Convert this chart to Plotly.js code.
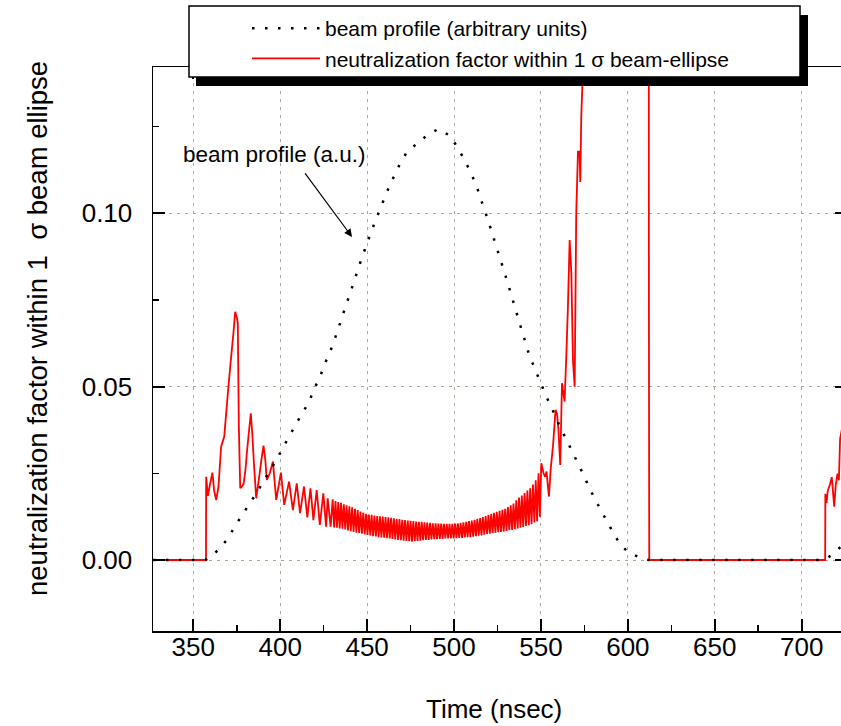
<!DOCTYPE html>
<html>
<head>
<meta charset="utf-8">
<script src="https://cdn.plot.ly/plotly-3.0.1.min.js"></script>
<style>
html,body{margin:0;padding:0;overflow:hidden;background:#fff;}
#chart{width:847px;height:726px;}
</style>
</head>
<body>
<div id="chart"></div>
<script>
// ---- beam profile (arbitrary units) ----
const tProfile = [326.8, 357, 359.4, 364.9, 369.7, 373.5, 377.7, 382.2, 386.2, 390.4, 394.6, 398.2, 402.1, 405.9, 409.5, 413.6, 417.2, 419.9, 423.1, 425.8, 428.7, 431.1, 433.4, 435.7, 437.9, 440.2, 446.0, 451.6, 457.4, 463.1, 468.9, 472.7, 478.8, 484.8, 490.9, 497.6, 502.0, 505.8, 509.2, 512.1, 514.6, 516.7, 519.0, 524.6, 530.9, 537.2, 543.5, 546.4, 549.3, 552.1, 555.0, 558.3, 561.1, 564.6, 568.0, 571.3, 574.5, 577.6, 580.8, 584.5, 588.1, 591.8, 595.8, 600.6, 607.7, 612, 712, 714, 718.7, 722, 726];
const vProfile = [0, 0, 0.0008, 0.0031, 0.0061, 0.0093, 0.0127, 0.0161, 0.0192, 0.0227, 0.0262, 0.0292, 0.0329, 0.0363, 0.0396, 0.0430, 0.0464, 0.0497, 0.0531, 0.0568, 0.0600, 0.0634, 0.0667, 0.0702, 0.0736, 0.0769, 0.0857, 0.0937, 0.1012, 0.1082, 0.1143, 0.1175, 0.1202, 0.1226, 0.1243, 0.1224, 0.1190, 0.1156, 0.1122, 0.1089, 0.1055, 0.1021, 0.0989, 0.0900, 0.0799, 0.0692, 0.0587, 0.0553, 0.0517, 0.0484, 0.0450, 0.0415, 0.0382, 0.0348, 0.0312, 0.0279, 0.0245, 0.0211, 0.0178, 0.0144, 0.0110, 0.0077, 0.0043, 0.0021, 0.0005, 0, 0, 0.0003, 0.0020, 0.0036, 0.0052];

// ---- neutralization factor within 1 sigma beam-ellipse ----
// leading edge, first peaks and early oscillations
const tNeutralStart = [326.8, 357.3, 357.4, 358.4, 359.5, 361.0, 362.0, 363.2, 364.5, 366.0, 367.8, 369.7, 371.6, 373.2, 374.1, 375.0, 375.6, 376.2, 377.0, 378.0,
  378.9, 380.0, 380.8, 382.0, 383.1, 384.0, 385.0, 386.2, 387.9, 389.2, 390.4, 391.4, 392.3, 394.0, 395.8, 397.7, 400.4, 402.3, 405.1, 407.3,
  409.5, 411.4, 413.7, 415.6, 417.4, 419.1, 421.0, 422.8, 424.8, 426.4, 427.3, 429.0];
const vNeutralStart = [0, 0, 0.0240, 0.0185, 0.0215, 0.0252, 0.0200, 0.0173, 0.0212, 0.0327, 0.0356, 0.0471, 0.0577, 0.0660, 0.0716, 0.0700, 0.0684, 0.0385, 0.0207, 0.0212,
  0.0219, 0.0260, 0.0308, 0.0370, 0.0423, 0.0360, 0.0269, 0.0178, 0.0240, 0.0290, 0.0330, 0.0290, 0.0231, 0.0250, 0.0284, 0.0173, 0.0252, 0.0159, 0.0226, 0.0144,
  0.0221, 0.0135, 0.0212, 0.0123, 0.0207, 0.0115, 0.0202, 0.0101, 0.0192, 0.0096, 0.0178, 0.0096];
// fast oscillation: upper turning points
const tNeutralPeaks = [430.2, 431.8, 433.4, 435.0, 436.6, 438.2, 439.8, 441.4, 443.0, 444.6, 446.2, 447.8, 449.4, 451.0, 452.6, 454.2, 455.8, 457.4, 459.0, 460.6,
  462.2, 463.8, 465.4, 467.0, 468.6, 470.2, 471.8, 473.4, 475.0, 476.6, 478.2, 479.8, 481.4, 483.0, 484.6, 486.2, 487.8, 489.4, 491.0, 492.6,
  494.2, 495.8, 497.4, 499.0, 500.6, 502.2, 503.8, 505.4, 507.0, 508.6, 510.2, 511.8, 513.4, 515.0, 516.6, 518.2, 519.8, 521.4, 523.0, 524.6,
  526.2, 527.8, 529.4, 531.0, 532.6, 534.2, 535.8, 537.4, 539.0, 540.6, 542.2, 543.8, 545.4, 547.0, 548.6, 550.2];
const vNeutralPeaks = [0.0175, 0.0170, 0.0167, 0.0165, 0.0161, 0.0158, 0.0155, 0.0152, 0.0148, 0.0144, 0.0140, 0.0137, 0.0133, 0.0131, 0.0130, 0.0128, 0.0127, 0.0126, 0.0125, 0.0124,
  0.0123, 0.0122, 0.0120, 0.0119, 0.0118, 0.0116, 0.0115, 0.0114, 0.0113, 0.0112, 0.0111, 0.0110, 0.0110, 0.0109, 0.0108, 0.0107, 0.0106, 0.0106, 0.0105, 0.0105,
  0.0104, 0.0104, 0.0104, 0.0104, 0.0105, 0.0106, 0.0107, 0.0109, 0.0110, 0.0112, 0.0114, 0.0116, 0.0119, 0.0121, 0.0124, 0.0127, 0.0130, 0.0133, 0.0136, 0.0139,
  0.0142, 0.0145, 0.0148, 0.0153, 0.0158, 0.0163, 0.0172, 0.0180, 0.0186, 0.0193, 0.0200, 0.0207, 0.0218, 0.0230, 0.0250, 0.0279];
// fast oscillation: lower turning points
const tNeutralTroughs = [431.0, 432.6, 434.2, 435.8, 437.4, 439.0, 440.6, 442.2, 443.8, 445.4, 447.0, 448.6, 450.2, 451.8, 453.4, 455.0, 456.6, 458.2, 459.8, 461.4,
  463.0, 464.6, 466.2, 467.8, 469.4, 471.0, 472.6, 474.2, 475.8, 477.4, 479.0, 480.6, 482.2, 483.8, 485.4, 487.0, 488.6, 490.2, 491.8, 493.4,
  495.0, 496.6, 498.2, 499.8, 501.4, 503.0, 504.6, 506.2, 507.8, 509.4, 511.0, 512.6, 514.2, 515.8, 517.4, 519.0, 520.6, 522.2, 523.8, 525.4,
  527.0, 528.6, 530.2, 531.8, 533.4, 535.0, 536.6, 538.2, 539.8, 541.4, 543.0, 544.6, 546.2, 547.8, 549.4];
const vNeutralTroughs = [0.0094, 0.0093, 0.0091, 0.0090, 0.0088, 0.0085, 0.0083, 0.0081, 0.0079, 0.0078, 0.0076, 0.0074, 0.0072, 0.0071, 0.0069, 0.0068, 0.0066, 0.0065, 0.0064, 0.0063,
  0.0062, 0.0061, 0.0059, 0.0058, 0.0057, 0.0056, 0.0055, 0.0054, 0.0053, 0.0054, 0.0055, 0.0056, 0.0057, 0.0058, 0.0058, 0.0059, 0.0060, 0.0060, 0.0061, 0.0061,
  0.0062, 0.0062, 0.0062, 0.0062, 0.0063, 0.0064, 0.0064, 0.0065, 0.0066, 0.0066, 0.0067, 0.0069, 0.0070, 0.0071, 0.0073, 0.0075, 0.0076, 0.0078, 0.0079, 0.0080,
  0.0081, 0.0082, 0.0084, 0.0086, 0.0087, 0.0089, 0.0091, 0.0093, 0.0095, 0.0098, 0.0100, 0.0103, 0.0108, 0.0112, 0.0125];
// steep rise, off-scale part, drop and the next bunch
const tNeutralEnd = [551.5, 552.4, 553.2, 554.6, 555.6, 556.9, 558.4, 559.2, 560.0, 561.1, 562.1, 563.6, 564.6, 565.5, 566.5,
  567.5, 568.4, 569.4, 570.3, 571.3, 572.2, 572.6, 573.2, 573.8, 574.5, 576.0, 590.0, 612.0, 612.1, 612.3, 713.5, 713.6, 714.3, 715.0, 716.2,
  717.3, 718.7, 719.6, 720.6, 721.4, 722.1, 724.0, 726.0];
const vNeutralEnd = [0.0250, 0.0240, 0.0255, 0.0183, 0.0262, 0.0327, 0.0433, 0.0423, 0.0380, 0.0274, 0.0510, 0.0457, 0.0591, 0.0726, 0.0923,
  0.0827, 0.0577, 0.0500, 0.1000, 0.1178, 0.1178, 0.1090, 0.1280, 0.1366, 0.1450, 0.1700, 0.2000, 0.2000, 0.0756, 0, 0, 0.0191, 0.0165, 0.0200, 0.0217,
  0.0239, 0.0154, 0.0217, 0.0249, 0.0230, 0.0350, 0.0400, 0.0450];

const xTitle = 'Time (nsec)';
const yTitle = 'neutralization factor within 1  σ beam ellipse';
const profileName = 'beam profile (arbitrary units)';
const neutralName = 'neutralization factor within 1 σ beam-ellipse';
const profileNote = 'beam profile (a.u.)';

// merge the read segments into one time-ordered series
const neutralPts = [];
[[tNeutralStart, vNeutralStart], [tNeutralPeaks, vNeutralPeaks], [tNeutralTroughs, vNeutralTroughs], [tNeutralEnd, vNeutralEnd]]
  .forEach(([ts, vs]) => ts.forEach((t, i) => neutralPts.push([t, vs[i]])));
neutralPts.sort((a, b) => a[0] - b[0]);
const tNeutral = neutralPts.map(p => p[0]);
const vNeutral = neutralPts.map(p => p[1]);

const FONT = '"Liberation Sans", Arial, sans-serif';
const GRID = '#a9a98f';
const XR = [326.82, 726.06];
const YR = [-0.02048, 0.14220];

const traces = [
  {
    x: tNeutral, y: vNeutral, type: 'scatter', mode: 'lines', name: neutralName,
    line: {color: '#ff0000', width: 1.8, simplify: false}
  },
  {
    x: tProfile, y: vProfile, type: 'scatter', mode: 'lines', name: profileName,
    line: {color: '#000000', width: 2.5, dash: '2.5px,10.5px', simplify: false}
  },
  // empty helpers so the overlay axes carrying the long tick marks get drawn
  {x: [], y: [], xaxis: 'x2', yaxis: 'y', type: 'scatter', mode: 'lines', showlegend: false, hoverinfo: 'skip'},
  {x: [], y: [], xaxis: 'x', yaxis: 'y2', type: 'scatter', mode: 'lines', showlegend: false, hoverinfo: 'skip'}
];

const W = 847, H = 726, ML = 153, MT = 67, MB = 95;
const PW = W - ML, PH = H - MT - MB;
const px = v => (v - ML) / PW;          // pixel -> paper x
const py = v => (H - MB - v) / PH;      // pixel -> paper y

const longTick = {ticks: 'inside', ticklen: 12, tickwidth: 2, tickcolor: '#000', showgrid: false};

const layout = {
  width: W, height: H, autosize: false,
  margin: {l: ML, r: 0, t: MT, b: MB, pad: 0},
  paper_bgcolor: '#ffffff', plot_bgcolor: '#ffffff',
  font: {family: FONT, color: '#000', size: 26},
  showlegend: true,
  xaxis: {
    range: XR, tickmode: 'linear', tick0: 0, dtick: 50,
    ticks: 'inside', ticklen: 12, tickwidth: 2, tickcolor: '#000',
    minor: {dtick: 25, tick0: 0, ticks: 'inside', ticklen: 6, tickwidth: 1.5, tickcolor: '#000', showgrid: false},
    showline: true, linecolor: '#000', linewidth: 1.5, mirror: 'ticks',
    showgrid: true, gridcolor: GRID, gridwidth: 1, griddash: '3px,5px',
    zeroline: false, tickfont: {size: 26, family: FONT}, ticklabelstandoff: -8
  },
  xaxis2: {
    overlaying: 'x', anchor: 'y', side: 'bottom', range: XR,
    tickmode: 'linear', tick0: 10000, dtick: 100000, ticks: '', mirror: 'ticks',
    minor: Object.assign({tick0: 0, dtick: 50}, longTick),
    showticklabels: false, showline: false, zeroline: false, showgrid: false
  },
  yaxis: {
    range: YR, tickmode: 'linear', tick0: 0, dtick: 0.05, tickformat: '.2f',
    ticks: 'inside', ticklen: 12, tickwidth: 2, tickcolor: '#000',
    minor: {dtick: 0.025, tick0: 0, ticks: 'inside', ticklen: 6, tickwidth: 1.5, tickcolor: '#000', showgrid: false},
    showline: true, linecolor: '#000', linewidth: 1.5, mirror: 'ticks',
    showgrid: true, gridcolor: GRID, gridwidth: 1, griddash: '3px,5px',
    zeroline: false, tickfont: {size: 26, family: FONT}, ticklabelstandoff: 14
  },
  yaxis2: {
    overlaying: 'y', anchor: 'x', side: 'left', range: YR,
    tickmode: 'linear', tick0: 10, dtick: 100, ticks: '', mirror: 'ticks',
    minor: Object.assign({tick0: 0, dtick: 0.05}, longTick),
    showticklabels: false, showline: false, zeroline: false, showgrid: false
  },
  legend: {
    x: px(247), y: py(8), xanchor: 'left', yanchor: 'top',
    bgcolor: 'rgba(0,0,0,0)', borderwidth: 0, traceorder: 'reversed',
    itemwidth: 68, font: {size: 21, family: FONT, color: '#000'}
  },
  shapes: [
    {type: 'rect', xref: 'paper', yref: 'paper', layer: 'above',
     x0: px(196), x1: px(808), y0: py(86), y1: py(15),
     fillcolor: '#000', line: {width: 0}},
    {type: 'rect', xref: 'paper', yref: 'paper', layer: 'above',
     x0: px(189), x1: px(800), y0: py(77), y1: py(6),
     fillcolor: '#fff', line: {color: '#000', width: 1.5}}
  ],
  annotations: [
    {text: xTitle, xref: 'paper', yref: 'paper', x: px(493.5), y: py(709),
     xanchor: 'center', yanchor: 'middle', showarrow: false,
     font: {size: 26, family: FONT, color: '#000'}},
    {text: yTitle, xref: 'paper', yref: 'paper', x: px(38), y: py(329), textangle: -90,
     xanchor: 'center', yanchor: 'middle', showarrow: false,
     font: {size: 27.5, family: FONT, color: '#000'}},
    {text: profileNote, xref: 'x', yref: 'y', x: 343.1, y: 0.117,
     xanchor: 'left', yanchor: 'middle', showarrow: false,
     font: {size: 22.5, family: FONT, color: '#000'}},
    {text: '', xref: 'x', yref: 'y', x: 441.3, y: 0.0932, ax: -48, ay: -65,
     showarrow: true, arrowhead: 2, arrowsize: 1.3, arrowwidth: 1.2, arrowcolor: '#000'}
  ]
};

Plotly.newPlot('chart', traces, layout, {displayModeBar: false, staticPlot: true});
</script>
</body>
</html>
